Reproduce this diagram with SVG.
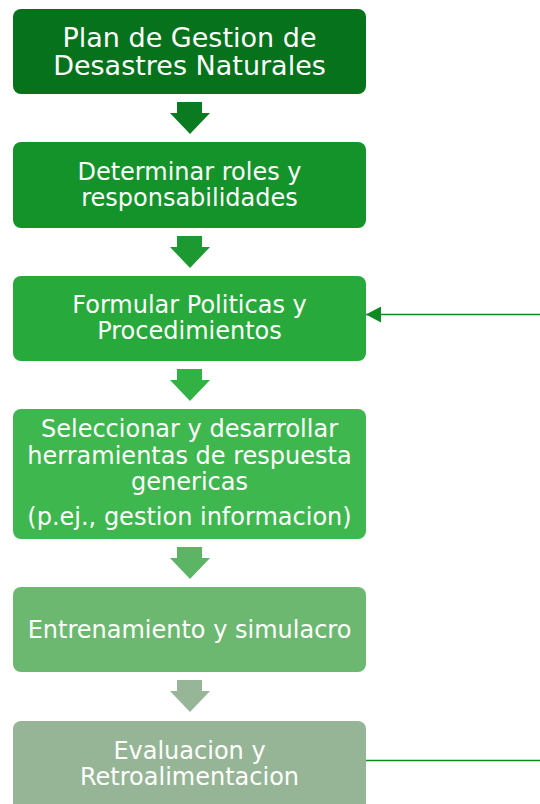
<svg xmlns="http://www.w3.org/2000/svg" width="540" height="804" viewBox="0 0 540 804">
<defs>
<style>
.t{font-family:"DejaVu Sans","Verdana",sans-serif;fill:#fff;text-anchor:middle;font-size:24px}
.t1{font-size:27px}
.ln{stroke:#0e8a22;stroke-width:1.6;fill:none}
</style>
<marker id="ah" markerWidth="15" markerHeight="16" refX="15" refY="8" orient="auto" markerUnits="userSpaceOnUse" viewBox="0 0 15 16">
<path d="M0,0 L15,8 L0,16 Z" fill="#0e8a22"/>
</marker>
</defs>
<rect width="540" height="804" fill="#fff"/>
<g id="n1"><rect x="13" y="9" width="353" height="85" rx="8" fill="#07721c"/>
<text class="t t1" x="189.5" y="47">Plan de Gestion de</text>
<text class="t t1" x="189.5" y="75">Desastres Naturales</text></g>
<g id="n2"><rect x="13" y="142" width="353" height="86" rx="8" fill="#14932b"/>
<text class="t" x="189.5" y="180">Determinar roles y</text>
<text class="t" x="189.5" y="206">responsabilidades</text></g>
<g id="n3"><rect x="13" y="276" width="353" height="85" rx="8" fill="#27aa3b"/>
<text class="t" x="189.5" y="313">Formular Politicas y</text>
<text class="t" x="189.5" y="339">Procedimientos</text></g>
<g id="n4"><rect x="13" y="409" width="353" height="130" rx="8" fill="#3fb74f"/>
<text class="t" x="189.5" y="437">Seleccionar y desarrollar</text>
<text class="t" x="189.5" y="464">herramientas de respuesta</text>
<text class="t" x="189.5" y="490">genericas</text>
<text class="t" x="189.5" y="525">(p.ej., gestion informacion)</text></g>
<g id="n5"><rect x="13" y="587" width="353" height="85" rx="8" fill="#6db870"/>
<text class="t" x="189.5" y="638">Entrenamiento y simulacro</text></g>
<g id="n6"><rect x="13" y="721" width="353" height="90" rx="8" fill="#96b596"/>
<text class="t" x="189.5" y="759">Evaluacion y</text>
<text class="t" x="189.5" y="785">Retroalimentacion</text></g>
<g id="connectors">
<path d="M177,102 H202 V113 H210 L190,134 L170,113 H177 Z" fill="#0b7b22"/>
<path d="M177,236 H202 V247 H210 L190,268 L170,247 H177 Z" fill="#1c9a31"/>
<path d="M177,369 H202 V380 H210 L190,401 L170,380 H177 Z" fill="#33b244"/>
<path d="M177,547 H202 V558 H210 L190,579 L170,558 H177 Z" fill="#5cb565"/>
<path d="M177,680 H202 V691 H210 L190,712 L170,691 H177 Z" fill="#97b697"/>
<line class="ln" x1="540" y1="314.5" x2="366" y2="314.5" marker-end="url(#ah)"/>
<line class="ln" x1="366" y1="760.5" x2="540" y2="760.5"/>
</g>
</svg>
